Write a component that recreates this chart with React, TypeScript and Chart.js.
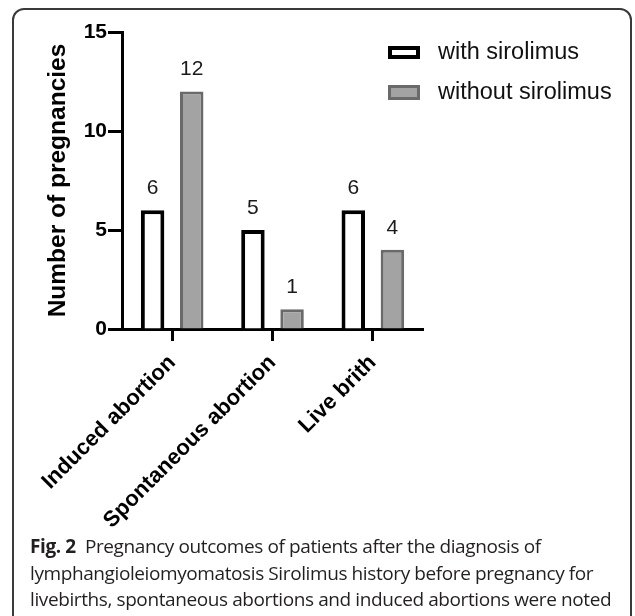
import React, { useEffect, useRef } from "react";
import { Chart, registerables } from "chart.js";

Chart.register(...registerables);

const categories = ["Induced abortion", "Spontaneous abortion", "Live brith"];
const seriesNames = ["with sirolimus", "without sirolimus"];
const withSirolimus = [6, 5, 6];
const withoutSirolimus = [12, 1, 4];
const yMin = 0;
const yMax = 15;
const yStep = 5;
const yTitle = "Number of pregnancies";
const captionBold = "Fig. 2";
const captionLines = [
  "Pregnancy outcomes of patients after the diagnosis of",
  "lymphangioleiomyomatosis Sirolimus history before pregnancy for",
  "livebirths, spontaneous abortions and induced abortions were noted",
];

const FONT = "'Liberation Sans', Arial, Helvetica, sans-serif";

export default function App() {
  const ref = useRef<HTMLCanvasElement>(null);

  useEffect(() => {
    const canvas = ref.current!;

    const valueLabels = {
      id: "valueLabels",
      afterDatasetsDraw(chart: any) {
        const ctx = chart.ctx;
        ctx.save();
        ctx.font = `21px ${FONT}`;
        ctx.fillStyle = "#1a1a1a";
        ctx.textAlign = "center";
        ctx.textBaseline = "middle";
        chart.data.datasets.forEach((ds: any, i: number) => {
          const meta = chart.getDatasetMeta(i);
          meta.data.forEach((el: any, j: number) => {
            ctx.fillText(String(ds.data[j]), el.x, el.y - 22);
          });
        });
        ctx.restore();
      },
    };

    const customLegend = {
      id: "customLegend",
      afterDraw(chart: any) {
        const ctx = chart.ctx;
        ctx.save();
        const rows = [
          { y: 46, h: 13 },
          { y: 85, h: 15 },
        ];
        chart.data.datasets.forEach((ds: any, i: number) => {
          const r = rows[i];
          const bw = ds.borderWidth;
          ctx.fillStyle = ds.borderColor;
          ctx.fillRect(388, r.y, 32, r.h);
          ctx.fillStyle = ds.backgroundColor;
          ctx.fillRect(388 + bw, r.y + bw, 32 - 2 * bw, r.h - 2 * bw);
          ctx.font = `23.5px ${FONT}`;
          ctx.fillStyle = "#111";
          ctx.textAlign = "left";
          ctx.textBaseline = "middle";
          ctx.fillText(ds.label, 438, r.y + r.h / 2);
        });
        ctx.restore();
      },
    };

    const chart = new Chart(canvas, {
      type: "bar",
      data: {
        labels: categories,
        datasets: [
          {
            label: seriesNames[0],
            data: withSirolimus,
            backgroundColor: "#ffffff",
            borderColor: "#000000",
            borderWidth: 4,
            barPercentage: 0.6,
            categoryPercentage: 0.78,
          },
          {
            label: seriesNames[1],
            data: withoutSirolimus,
            backgroundColor: "#a3a3a3",
            borderColor: "#6a6a6a",
            borderWidth: 3,
            barPercentage: 0.6,
            categoryPercentage: 0.78,
          },
        ],
      },
      options: {
        responsive: false,
        animation: false,
        devicePixelRatio: 1,
        layout: { padding: { top: 32, right: 212, left: 0, bottom: 0 } },
        plugins: { legend: { display: false }, tooltip: { enabled: false } },
        scales: {
          x: {
            offset: true,
            grid: {
              display: true,
              drawOnChartArea: false,
              offset: false,
              tickLength: 12,
              tickWidth: 3,
              color: "#000",
            },
            border: { display: true, color: "#000", width: 3 },
            ticks: {
              autoSkip: false,
              maxRotation: 45,
              minRotation: 45,
              color: "#000",
              padding: 9,
              labelOffset: 0,
              font: { family: FONT, size: 22, weight: "bold" },
            },
            afterFit: (s: any) => {
              s.height = 201;
            },
          },
          y: {
            min: yMin,
            max: yMax,
            ticks: {
              stepSize: yStep,
              color: "#000",
              padding: 1,
              font: { family: FONT, size: 21, weight: "bold" },
            },
            grid: {
              drawOnChartArea: false,
              tickLength: 14,
              tickWidth: 3,
              color: "#000",
            },
            border: { display: true, color: "#000", width: 3 },
            title: {
              display: true,
              text: yTitle,
              color: "#000",
              font: { family: FONT, size: 24.5, weight: "bold" },
              padding: { top: 44, bottom: 0 },
            },
            afterFit: (s: any) => {
              s.width = 122;
            },
          },
        },
      },
      plugins: [valueLabels, customLegend],
    } as any);
    return () => chart.destroy();
  }, []);

  return (
    <div>
      <div
        style={{
          position: "fixed",
          left: 12,
          top: 8,
          width: 620,
          height: 640,
          border: "2px solid #3a3a3a",
          borderRadius: 12,
          boxSizing: "border-box",
        }}
      />
      <canvas
        ref={ref}
        width={635}
        height={530}
        style={{ position: "fixed", left: 0, top: 0, width: 635, height: 530 }}
      />
      <div
        style={{
          position: "fixed",
          left: 30,
          top: 533,
          fontFamily: "'Open Sans', sans-serif",
          fontSize: 19,
          lineHeight: "26.5px",
          color: "#231f20",
          whiteSpace: "nowrap",
          letterSpacing: "-0.4px",
        }}
      >
        <div>
          <b style={{ fontWeight: 700 }}>{captionBold}</b>
          {"\u2002"}
          {captionLines[0]}
        </div>
        <div>{captionLines[1]}</div>
        <div>{captionLines[2]}</div>
      </div>
    </div>
  );
}
